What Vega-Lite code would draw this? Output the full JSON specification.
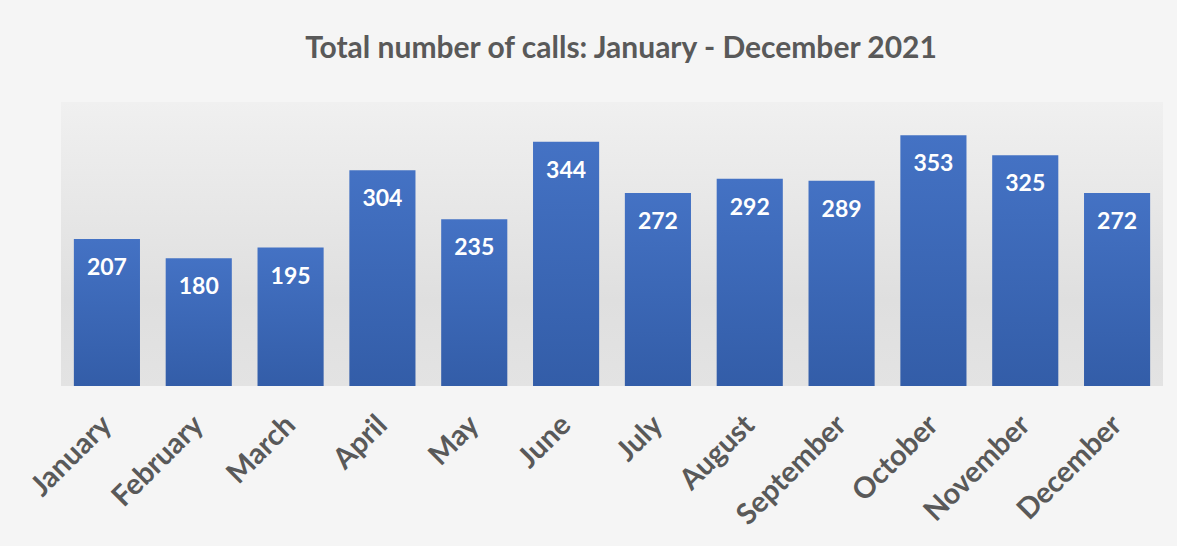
{
  "$schema": "https://vega.github.io/schema/vega-lite/v6.json",
  "width": 1102,
  "height": 284,
  "autosize": "none",
  "padding": {"left": 61, "top": 102, "right": 14, "bottom": 160},
  "background": "#f5f5f5",
  "config": {
    "view": {
      "stroke": null,
      "fill": {"gradient": "linear", "x1": 0, "y1": 0, "x2": 0, "y2": 1, "stops": [
        {"offset": 0, "color": "#f0f0f0"},
        {"offset": 0.7, "color": "#dfdfdf"},
        {"offset": 1, "color": "#e3e3e3"}
      ]}
    },
    "font": "Lato"
  },
  "title": {
    "text": "Total number of calls: January - December 2021",
    "font": "Lato",
    "fontSize": 30,
    "fontWeight": "bold",
    "color": "#595959",
    "anchor": "middle",
    "frame": "group",
    "dx": 9,
    "offset": 38
  },
  "data": {
    "values": [
      {"month": "January", "calls": 207},
      {"month": "February", "calls": 180},
      {"month": "March", "calls": 195},
      {"month": "April", "calls": 304},
      {"month": "May", "calls": 235},
      {"month": "June", "calls": 344},
      {"month": "July", "calls": 272},
      {"month": "August", "calls": 292},
      {"month": "September", "calls": 289},
      {"month": "October", "calls": 353},
      {"month": "November", "calls": 325},
      {"month": "December", "calls": 272}
    ]
  },
  "encoding": {
    "x": {
      "field": "month",
      "type": "nominal",
      "sort": null,
      "scale": {"paddingInner": 0.28, "paddingOuter": 0.14},
      "axis": {
        "title": null,
        "domain": false,
        "ticks": false,
        "labelAngle": -45,
        "labelAlign": "right",
        "labelBaseline": "middle",
        "labelPadding": 34,
        "labelFont": "Lato",
        "labelFontSize": 29,
        "labelFontWeight": "bold",
        "labelColor": "#595959"
      }
    },
    "y": {
      "field": "calls",
      "type": "quantitative",
      "scale": {"domain": [0, 400]},
      "axis": null
    }
  },
  "layer": [
    {
      "mark": {
        "type": "bar",
        "color": {"gradient": "linear", "x1": 0, "y1": 0, "x2": 0, "y2": 1, "stops": [
          {"offset": 0, "color": "#4472c4"},
          {"offset": 1, "color": "#335da8"}
        ]}
      }
    },
    {
      "mark": {
        "type": "text",
        "baseline": "middle",
        "dy": 29,
        "font": "Lato",
        "fontSize": 23,
        "fontWeight": "bold",
        "color": "white"
      },
      "encoding": {"text": {"field": "calls", "type": "quantitative"}}
    }
  ]
}
